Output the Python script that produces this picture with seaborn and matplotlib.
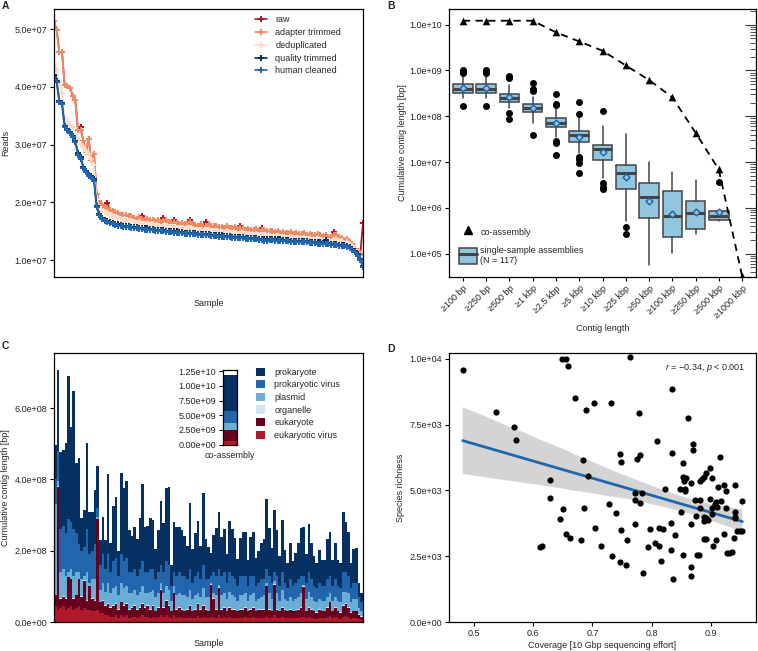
import numpy as np
import pandas as pd
import matplotlib
matplotlib.use("Agg")
import matplotlib.pyplot as plt
import seaborn as sns
from matplotlib.lines import Line2D
from matplotlib.patches import Patch
from matplotlib.ticker import FuncFormatter, LogLocator, NullFormatter, NullLocator

sns.set_theme(style="ticks")
plt.rcParams["font.family"] = ["Liberation Sans", "DejaVu Sans"]
plt.rcParams["font.size"] = 6.5
plt.rcParams["mathtext.fontset"] = "custom"
plt.rcParams["mathtext.it"] = "Liberation Sans:italic"
plt.rcParams["mathtext.rm"] = "Liberation Sans"

# ---------------- data: panel A (reads per sample, millions) ----------------
raw = [51.4, 49.9, 46.0, 46.0, 40.3, 40.1, 39.9, 38.5, 37.7, 32.5, 33.0, 30.7, 28.7, 31.0, 27.4, 28.4, 21.5, 20.3, 19.6,
       19.3, 19.9, 18.7, 18.6, 18.3, 18.1, 17.9, 17.8, 17.9, 17.6, 17.6,
       17.4, 17.2, 17.5, 17.6, 17.0, 17.2, 16.9, 17.0, 16.8, 16.9, 16.6, 17.3,
       16.9, 16.6, 16.5, 17.0, 16.4, 16.3, 16.5, 16.2, 16.3, 16.9, 16.2, 16.1, 16.0,
       16.2, 15.9, 16.6, 16.3, 15.8, 15.9, 16.0, 15.7, 15.8, 15.6, 15.9, 15.5, 15.6,
       15.7, 15.4, 15.9, 15.6, 15.3, 15.4, 15.2, 15.3, 15.4, 15.1, 15.6, 15.3, 15.0,
       15.1, 15.0, 14.9, 15.1, 14.8, 14.9, 14.7, 14.8, 14.9, 14.6, 14.7, 14.5, 14.6,
       14.7, 14.4, 14.5, 14.3, 14.4, 14.6, 14.3, 14.2, 14.4, 14.1, 14.0, 14.9,
       14.3, 14.0, 13.9, 13.5, 13.7, 13.2, 12.8, 12.0, 11.6, 11.1, 16.5]
adapter_trimmed = [51.4, 49.9, 46.0, 46.0, 40.3, 40.1, 39.9, 38.5, 37.7, 32.5, 32.6, 30.7, 28.7, 31.0, 27.4, 28.4, 21.5, 20.3, 19.6,
                   19.3, 19.0, 18.7, 18.6, 18.3, 18.1, 17.9, 17.8, 17.9, 17.6, 17.6,
                   17.4, 17.2, 17.5, 17.1, 17.0, 17.2, 16.9, 17.0, 16.8, 16.9, 16.6, 16.8,
                   16.9, 16.6, 16.5, 16.7, 16.4, 16.3, 16.5, 16.2, 16.3, 16.6, 16.2, 16.1, 16.0,
                   16.2, 15.9, 16.0, 16.3, 15.8, 15.9, 16.0, 15.7, 15.8, 15.6, 15.9, 15.5, 15.6,
                   15.7, 15.4, 15.5, 15.6, 15.3, 15.4, 15.2, 15.3, 15.4, 15.1, 15.2, 15.3, 15.0,
                   15.1, 15.0, 14.9, 15.1, 14.8, 14.9, 14.7, 14.8, 14.9, 14.6, 14.7, 14.5, 14.6,
                   14.7, 14.4, 14.5, 14.3, 14.4, 14.6, 14.3, 14.2, 14.4, 14.1, 14.0, 14.4,
                   14.3, 14.0, 13.9, 13.5, 13.7, 13.2, 12.8, 12.0, 11.6, 11.0, 10.8]
deduplicated = [44.0, 42.9, 40.8, 39.0, 34.5, 34.0, 33.5, 33.0, 31.9, 31.0, 30.2, 29.6, 29.0, 28.4, 27.5, 26.5, 20.6, 19.2, 18.6,
                18.4, 18.1, 17.9, 17.7, 17.5, 17.3, 17.1, 17.0, 17.0, 16.8, 16.8,
                16.6, 16.5, 16.6, 16.3, 16.2, 16.3, 16.1, 16.2, 16.0, 16.0, 15.8, 15.9,
                16.0, 15.8, 15.7, 15.8, 15.6, 15.5, 15.6, 15.4, 15.5, 15.6, 15.4, 15.3, 15.2,
                15.3, 15.1, 15.2, 15.3, 15.0, 15.0, 15.1, 14.9, 14.9, 14.8, 15.0, 14.7, 14.7,
                14.8, 14.6, 14.6, 14.7, 14.5, 14.5, 14.4, 14.4, 14.5, 14.3, 14.3, 14.4, 14.2,
                14.2, 14.1, 14.1, 14.2, 14.0, 14.0, 13.9, 13.9, 14.0, 13.8, 13.8, 13.7, 13.7,
                13.8, 13.6, 13.6, 13.5, 13.5, 13.7, 13.5, 13.4, 13.5, 13.3, 13.2, 13.5,
                13.6, 13.4, 13.3, 13.0, 13.2, 12.8, 12.4, 11.8, 11.2, 10.6, 10.2]
quality_trimmed = [42.0, 41.0, 37.6, 37.2, 33.2, 32.8, 32.2, 31.5, 30.7, 28.5, 27.8, 26.2, 25.5, 24.8, 24.6, 24.0, 19.4, 18.0, 17.3,
                   17.0, 16.8, 16.6, 16.5, 16.3, 16.2, 16.1, 16.0, 15.9, 15.9, 15.8,
                   15.7, 15.7, 15.6, 15.6, 15.5, 15.5, 15.4, 15.4, 15.3, 15.3, 15.2, 15.2,
                   15.1, 15.1, 15.1, 15.0, 15.0, 14.9, 14.9, 14.8, 14.8, 14.8, 14.7, 14.7, 14.6,
                   14.6, 14.6, 14.5, 14.5, 14.4, 14.4, 14.4, 14.3, 14.3, 14.2, 14.2, 14.2, 14.1,
                   14.1, 14.0, 14.0, 14.0, 13.9, 13.9, 13.8, 13.8, 13.8, 13.7, 13.7, 13.6, 13.6,
                   13.7, 13.7, 13.6, 13.6, 13.6, 13.5, 13.5, 13.5, 13.4, 13.4, 13.4, 13.3, 13.3,
                   13.3, 13.3, 13.2, 13.2, 13.2, 13.1, 13.1, 13.0, 13.5, 13.0, 12.9, 12.9,
                   12.8, 12.7, 12.7, 12.6, 12.5, 12.3, 12.0, 11.6, 11.0, 10.2, 9.0]
human_cleaned = [41.8, 40.8, 37.4, 37.0, 33.0, 32.6, 32.0, 31.3, 30.5, 28.3, 27.6, 26.0, 25.3, 24.6, 24.4, 23.8, 19.2, 17.8, 17.1,
                 16.8, 16.6, 16.4, 16.3, 16.1, 16.0, 15.9, 15.8, 15.7, 15.7, 15.6,
                 15.5, 15.5, 15.4, 15.4, 15.3, 15.3, 15.2, 15.2, 15.1, 15.1, 15.0, 15.0,
                 14.9, 14.9, 14.9, 14.8, 14.8, 14.7, 14.7, 14.6, 14.6, 14.6, 14.5, 14.5, 14.4,
                 14.4, 14.4, 14.3, 14.3, 14.2, 14.2, 14.2, 14.1, 14.1, 14.0, 14.0, 14.0, 13.9,
                 13.9, 13.8, 13.8, 13.8, 13.7, 13.7, 13.6, 13.6, 13.6, 13.5, 13.5, 13.4, 13.4,
                 13.5, 13.5, 13.4, 13.4, 13.4, 13.3, 13.3, 13.3, 13.2, 13.2, 13.2, 13.1, 13.1,
                 13.1, 13.1, 13.0, 13.0, 13.0, 12.9, 12.9, 12.8, 12.9, 12.8, 12.7, 12.7,
                 12.6, 12.5, 12.5, 12.4, 12.3, 12.1, 11.8, 11.4, 10.8, 10.0, 8.8]
steps = ["raw", "adapter trimmed", "deduplicated", "quality trimmed", "human cleaned"]
step_colors = ["#B2182B", "#EF8A62", "#FDDBC7", "#053061", "#2166AC"]

# ---------------- data: panel B (contig length thresholds) ----------------
contig_cats = ["≥100 bp", "≥250 bp", "≥500 bp", "≥1 kbp", "≥2.5 kbp", "≥5 kbp", "≥10 kbp",
               "≥25 kbp", "≥50 kbp", "≥100 kbp", "≥250 kbp", "≥500 kbp", "≥1000 kbp"]
coassembly = [1.22e10, 1.22e10, 1.22e10, 1.22e10, 6.8e9, 4.3e9, 2.7e9, 1.29e9, 6.2e8, 2.6e8, 4.4e7, 6.9e6, 3.3e4]
box_q1 = [3.3e8, 3.3e8, 2.06e8, 1.22e8, 5.85e7, 2.75e7, 1.11e7, 2.55e6, 6.15e5, 2.29e5, 3.4e5, 5.5e5]
box_med = [3.9e8, 3.9e8, 2.5e8, 1.5e8, 7.3e7, 3.9e7, 1.9e7, 5.8e6, 1.77e6, 6.5e5, 7.7e5, 6.5e5]
box_q3 = [5.07e8, 5.07e8, 3.07e8, 1.89e8, 9.4e7, 4.87e7, 2.41e7, 8.7e6, 3.57e6, 2.39e6, 1.42e6, 8.6e5]
box_lo = [2.47e8, 2.47e8, 1.5e8, 7.0e7, 3.6e7, 1.56e7, 4.4e6, 5.2e5, 5.7e4, 1.03e5, 2.66e5, 5.2e5]
box_hi = [8.4e8, 8.4e8, 4.8e8, 2.7e8, 1.5e8, 9.0e7, 6.1e7, 4.1e7, 9.8e6, 6.0e6, 4.1e6, 8.6e5]
box_mean = [4.2e8, 4.2e8, 2.7e8, 1.55e8, 7.3e7, 3.6e7, 1.67e7, 4.7e6, 1.4e6, 7.3e5, 8.0e5, 8.2e5]
box_fliers = [[1.0e9, 9.3e8, 8.8e8, 1.7e8], [1.05e9, 9.5e8, 9.0e8, 1.7e8], [7.6e8, 6.7e8, 1.16e8, 8.6e7],
              [5.2e8, 4.0e8, 3.6e8, 4.0e7], [3.1e8, 1.9e8, 1.74e8, 2.9e7, 2.6e7, 1.46e7],
              [2.1e8, 1.12e8, 1.27e7, 1.15e7, 9.4e6, 5.9e6], [1.3e8, 3.57e6, 2.9e6, 2.55e6],
              [3.9e5, 2.7e5], [], [], [], [3.6e6]]

# ---------------- data: panel C (stack tops per sample, units of 1e7 bp) ----------------
prokaryote_top = [49.7, 70.7, 47.8, 48.2, 50.3, 69.1, 54.6, 64.8, 44.7, 45.9,
                  29.1, 31.4, 50.3, 30.9, 30.9, 37.0, 43.9, 23.0, 29.5, 23.0,
                  41.4, 22.3, 32.5, 35.0, 20.0, 41.7, 37.7, 39.6, 25.8, 24.1,
                  26.6, 23.2, 29.1, 38.7, 26.7, 26.9, 29.3, 28.6, 20.4, 25.8,
                  34.0, 27.9, 37.5, 37.8, 16.0, 28.1, 26.7, 26.6, 25.8, 24.1,
                  21.3, 33.3, 20.4, 24.9, 28.3, 21.3, 36.3, 23.2, 21.1, 19.3,
                  24.5, 26.3, 30.9, 23.9, 26.0, 19.1, 28.3, 26.0, 23.7, 17.6,
                  23.7, 25.3, 25.3, 17.4, 23.9, 25.2, 18.1, 20.0, 22.1, 23.3,
                  34.4, 26.3, 20.9, 31.4, 25.8, 18.5, 28.6, 20.2, 16.5, 22.1,
                  17.1, 19.3, 22.1, 26.3, 26.6, 19.1, 27.4, 22.1, 18.5, 16.5,
                  20.2, 17.4, 17.4, 23.2, 25.3, 17.4, 22.1, 17.4, 16.5, 30.9,
                  28.1, 25.3, 16.5, 20.4, 20.7, 11.0, 8.2]
prok_virus_top = [40, 48, 26, 27, 25, 29, 28, 26, 25, 22,
                  20, 21, 26, 19, 20, 22, 32, 16, 19, 15,
                  19, 14, 17, 18, 13, 19, 17, 18, 14, 14,
                  15, 13, 15, 17, 14, 14, 15, 15, 12, 14,
                  16, 14, 17, 16, 10, 14, 13, 14, 13, 13,
                  12, 15, 11, 13, 14, 12, 16, 12, 12, 13,
                  14, 13, 15, 13, 14, 11, 14, 13, 12, 10,
                  13, 13, 13, 10, 13, 13, 10, 11, 12, 12,
                  15, 13, 11, 14, 13, 10, 14, 11, 9.5, 12,
                  10, 11, 12, 13, 13, 11, 14, 12, 10, 9.5,
                  11, 10, 10, 12, 13, 10, 12, 10, 9.5, 14,
                  14, 13, 9.5, 11, 11, 7, 5.5]
plasmid_top = [33, 39.5, 14, 15, 13, 14, 15, 13, 14, 14,
               12, 13, 14, 11, 12, 12, 29.5, 9, 11, 8.5,
               11, 8, 9.5, 10, 7.5, 11, 9.5, 10, 8, 8,
               9, 7.5, 8.5, 10, 8, 8, 8.5, 9, 7, 8,
               11, 8, 10, 9, 6, 10, 7.5, 8, 7.5, 7.5,
               7, 9, 6.5, 7.5, 8, 7, 9.5, 7, 7, 11,
               8, 7.5, 10.5, 7.5, 8, 6.5, 8.5, 7.5, 7, 6,
               7.5, 7.5, 8, 6, 7.5, 8, 6, 6.5, 7, 7.5,
               11, 8, 6.5, 11.5, 8, 6, 9, 6.5, 6, 7,
               6, 6.5, 7, 8, 10.5, 6.5, 8.5, 7, 6, 5.5,
               6.5, 6, 6, 7, 8, 6, 7, 6, 5.5, 8.5,
               8.5, 8, 5.5, 6.5, 6.5, 4, 3.2]
organelle_top = [7.7, 38.2, 6.7, 7.2, 6.7, 12.7, 12.2, 6.7, 7.7, 12.2,
                 7.2, 11.7, 6.2, 10.2, 6.7, 6.2, 29.0, 5.7, 6.2, 4.7,
                 5.2, 4.2, 4.7, 5.2, 3.7, 5.7, 4.7, 5.2, 3.7, 4.2,
                 4.7, 3.7, 4.2, 5.2, 4.2, 4.7, 3.7, 4.7, 3.2, 4.2,
                 9.2, 4.2, 6.2, 4.7, 3.2, 8.2, 3.7, 4.2, 3.7, 3.2,
                 3.7, 4.7, 3.2, 3.7, 5.2, 3.7, 4.7, 3.7, 3.2, 10.6,
                 6.7, 3.7, 9.7, 3.7, 4.2, 3.2, 4.2, 3.7, 3.7, 3.2,
                 3.7, 3.7, 4.2, 3.2, 3.7, 4.2, 3.2, 3.7, 3.7, 3.7,
                 10.2, 3.7, 3.2, 10.7, 3.7, 3.2, 4.2, 3.7, 3.2, 3.7,
                 3.2, 3.2, 3.7, 4.2, 10.0, 3.2, 4.2, 3.7, 3.2, 2.7,
                 3.7, 3.2, 3.2, 4.2, 5.7, 3.2, 4.2, 3.2, 2.7, 4.7,
                 5.2, 4.2, 2.7, 3.2, 3.2, 2.2, 1.7]
eukaryote_top = [7.5, 38, 6.5, 7, 6.5, 12.5, 12, 6.5, 7.5, 12,
                 7, 11.5, 6, 10, 6.5, 6, 28.8, 5.5, 6, 4.5,
                 5, 4, 4.5, 5, 3.5, 5.5, 4.5, 5, 3.5, 4,
                 4.5, 3.5, 4, 5, 4, 4.5, 3.5, 4.5, 3, 4,
                 9, 4, 6, 4.5, 3, 8, 3.5, 4, 3.5, 3,
                 3.5, 4.5, 3, 3.5, 5, 3.5, 4.5, 3.5, 3, 10.4,
                 6.5, 3.5, 9.5, 3.5, 4, 3, 4, 3.5, 3.5, 3,
                 3.5, 3.5, 4, 3, 3.5, 4, 3, 3.5, 3.5, 3.5,
                 10, 3.5, 3, 10.5, 3.5, 3, 4, 3.5, 3, 3.5,
                 3, 3, 3.5, 4, 9.8, 3, 4, 3.5, 3, 2.5,
                 3.5, 3, 3, 4, 5.5, 3, 4, 3, 2.5, 4.5,
                 5, 4, 2.5, 3, 3, 2, 1.5]
euk_virus_top = [4.5, 3.5, 4.0, 4.5, 3.5, 4.0, 4.5, 3.5, 4.0, 4.5,
                 3.5, 4.0, 3.5, 3.5, 3.0, 3.0, 3.5, 2.5, 2.5, 2.0,
                 2.0, 1.5, 1.5, 2.0, 1.2, 2.0, 1.5, 2.0, 1.2, 1.5,
                 1.5, 1.2, 1.5, 2.0, 1.5, 1.5, 1.2, 1.5, 1.0, 1.5,
                 2.0, 1.5, 2.0, 1.5, 1.0, 2.0, 1.2, 1.5, 1.2, 1.0,
                 1.2, 1.5, 1.0, 1.2, 1.8, 1.2, 1.5, 1.2, 1.0, 1.5,
                 1.5, 1.2, 2.0, 1.2, 1.5, 1.0, 1.5, 1.2, 1.2, 1.0,
                 1.2, 1.2, 1.5, 1.0, 1.2, 1.5, 1.0, 1.2, 1.2, 1.2,
                 1.5, 1.2, 1.0, 2.0, 1.2, 1.0, 1.5, 1.2, 1.0, 1.2,
                 1.0, 1.0, 1.2, 1.5, 1.5, 1.0, 1.5, 1.2, 1.0, 0.8,
                 1.2, 1.0, 1.0, 1.5, 1.8, 1.0, 1.5, 1.0, 0.8, 1.5,
                 1.8, 1.5, 0.8, 1.0, 1.0, 0.8, 0.6]
# co-assembly stack tops (units of 1e9 bp)
co_tops = [11.9, 5.65, 3.65, 2.45, 2.4, 0.68]
groups = ["prokaryote", "prokaryotic virus", "plasmid", "organelle", "eukaryote", "eukaryotic virus"]
group_colors = ["#053061", "#2166AC", "#6AAED6", "#D1E5F0", "#67001F", "#B2182B"]

# ---------------- data: panel D ----------------
coverage = [0.481, 0.537, 0.568, 0.571, 0.628, 0.628, 0.646, 0.651, 0.655, 0.663,
            0.612, 0.615, 0.649, 0.656, 0.658, 0.671, 0.690, 0.702, 0.732, 0.684,
            0.693, 0.685, 0.680, 0.705, 0.714, 0.728, 0.733, 0.740, 0.746, 0.748,
            0.746, 0.748, 0.756, 0.759, 0.763, 0.778, 0.772, 0.772, 0.772, 0.775,
            0.780, 0.781, 0.784, 0.785, 0.797, 0.793, 0.805, 0.809, 0.812, 0.813,
            0.815, 0.819, 0.823, 0.834, 0.834, 0.833, 0.833, 0.836, 0.840, 0.847,
            0.849, 0.853, 0.853, 0.852, 0.854, 0.858, 0.857, 0.856, 0.862, 0.866,
            0.867, 0.866, 0.866, 0.870, 0.870, 0.873, 0.875, 0.876, 0.880, 0.881,
            0.882, 0.882, 0.891, 0.888, 0.885, 0.888, 0.889, 0.892, 0.888, 0.891,
            0.895, 0.898, 0.898, 0.901, 0.902, 0.901, 0.903, 0.906, 0.908, 0.908,
            0.910, 0.912, 0.916, 0.917, 0.922, 0.922, 0.925, 0.926, 0.927, 0.930,
            0.936, 0.939, 0.940, 0.941, 0.940, 0.944, 0.949, 0.952, 0.953, 0.940]
richness = [9583, 7965, 7421, 6928, 5411, 4703, 3932, 4311, 3350, 3198,
            2845, 2895, 10000, 10000, 9722, 8496, 8053, 8319, 8306, 6157,
            5563, 4349, 3123, 3578, 2870, 4475, 2503, 4147, 6384, 6081,
            2263, 3502, 2162, 3097, 10076, 7939, 3742, 4918, 4627, 6182,
            4513, 6359, 4905, 1871, 3552, 2857, 2996, 6865, 3590, 2870,
            2314, 3552, 5057, 8862, 6410, 3755, 2718, 1618, 3300, 5070,
            4172, 2541, 6030, 5525, 5373, 5474, 4968, 5070, 7762, 5297,
            3729, 2099, 1757, 6776, 6536, 4640, 4045, 2528, 2528, 4640,
            5373, 4336, 5676, 5525, 5449, 3982, 3856, 3957, 3161, 3161,
            3881, 5866, 4665, 5474, 4324, 4096, 2870, 4488, 3097, 4564,
            4362, 5120, 6258, 4614, 5196, 3325, 4336, 4981, 2617, 2617,
            2642, 3198, 5196, 4197, 3970, 3439, 3439, 3439, 4589, 4008]

sci1 = FuncFormatter(lambda v, p: f"{v:.1e}")
sci2 = FuncFormatter(lambda v, p: f"{v:.2e}")

W, H = 758, 651
fig = plt.figure(figsize=(W / 100, H / 100), dpi=100)


def px_axes(l, t, r, b):
    return fig.add_axes([l / W, 1 - b / H, (r - l) / W, (b - t) / H])


def style(ax):
    for s in ax.spines.values():
        s.set_color("black")
        s.set_linewidth(0.9)
    ax.tick_params(length=3, width=0.8, color="black", labelsize=6.5, pad=2, labelcolor="#222222")


# ================= A =================
ax_a = px_axes(54, 9, 363, 277)
samples = np.arange(len(raw))
for name, vals, col in zip(steps, [raw, adapter_trimmed, deduplicated, quality_trimmed, human_cleaned], step_colors):
    sns.lineplot(x=samples, y=np.array(vals) * 1e6, color=col, marker="P", markersize=3.8,
                 markeredgewidth=0, linewidth=1.3, ax=ax_a)
ax_a.set_xlim(0, len(raw) - 1)
ax_a.set_ylim(0.71e7, 5.35e7)
ax_a.set_yticks([1e7, 2e7, 3e7, 4e7, 5e7])
ax_a.yaxis.set_major_formatter(sci1)
ax_a.set_xticks([])
ax_a.set_xlabel("Sample", fontsize=6.5, labelpad=16)
ax_a.set_ylabel("Reads", fontsize=6.5, labelpad=3)
style(ax_a)
handles_a = [Line2D([0], [0], color=c, marker="P", markersize=4, markeredgewidth=0, lw=1.2) for c in step_colors]
ax_a.legend(handles_a, steps, loc="upper left", bbox_to_anchor=(0.64, 0.99), frameon=False,
            handlelength=1.3, handletextpad=0.9, labelspacing=0.42, fontsize=6.5, borderaxespad=0)

# ================= B =================
ax_b = px_axes(449, 9, 756, 277)
stats = []
for i in range(len(box_q1)):
    stats.append(dict(med=box_med[i], q1=box_q1[i], q3=box_q3[i], whislo=box_lo[i],
                      whishi=box_hi[i], mean=box_mean[i], fliers=box_fliers[i]))
ax_b.bxp(stats, positions=range(len(stats)), widths=0.84, showmeans=True, showcaps=False, patch_artist=True,
         boxprops=dict(facecolor="#92C5DE", edgecolor="#444444", linewidth=1.1),
         medianprops=dict(color="#444444", linewidth=2.2),
         whiskerprops=dict(color="#444444", linewidth=1.1),
         flierprops=dict(marker="o", markerfacecolor="black", markeredgecolor="black", markersize=4),
         meanprops=dict(marker="D", markerfacecolor="#92C5DE", markeredgecolor="#1F5FA8",
                        markeredgewidth=1, markersize=3.5))
xb = np.arange(len(contig_cats))
sns.lineplot(x=xb, y=coassembly, color="black", linestyle=(0, (4, 3)), linewidth=1.3, ax=ax_b)
sns.scatterplot(x=xb, y=coassembly, color="black", marker="^", s=30, linewidth=0, ax=ax_b, zorder=5)
ax_b.set_yscale("log")
ax_b.set_ylim(3.1e4, 2.2e10)
ax_b.set_xlim(-0.6, 12.6)
ax_b.set_yticks([1e5, 1e6, 1e7, 1e8, 1e9, 1e10])
ax_b.yaxis.set_major_formatter(sci1)
ax_b.yaxis.set_minor_locator(NullLocator())
ax_b.set_xticks(xb)
ax_b.set_xticklabels(contig_cats, rotation=45, ha="right", rotation_mode="anchor")
ax_b.set_xlabel("Contig length", fontsize=6.5, labelpad=3)
ax_b.set_ylabel("Cumulative contig length [bp]", fontsize=6.5, labelpad=2)
style(ax_b)
ax_br = ax_b.twinx()
ax_br.set_yscale("log")
ax_br.set_ylim(ax_b.get_ylim())
ax_br.yaxis.set_major_locator(LogLocator(base=10))
ax_br.yaxis.set_minor_locator(LogLocator(base=10, subs=np.arange(2, 10)))
ax_br.yaxis.set_major_formatter(NullFormatter())
ax_br.yaxis.set_minor_formatter(NullFormatter())
ax_br.tick_params(axis="y", which="major", direction="in", length=8, width=0.8, color="#333333")
ax_br.tick_params(axis="y", which="minor", direction="in", length=4, width=0.6, color="#333333")
for s in ax_br.spines.values():
    s.set_visible(False)
h_tri = Line2D([0], [0], marker="^", color="black", lw=0, markersize=6)
h_box = (Patch(facecolor="#92C5DE", edgecolor="#444444", linewidth=1.1), Line2D([0], [0], color="#444444", lw=2.2))
ax_b.legend([h_tri, h_box], ["co-assembly", "single-sample assemblies\n(N = 117)"], loc="lower left",
            bbox_to_anchor=(0.02, 0.03), frameon=False, handlelength=2.0, handleheight=2.3,
            labelspacing=0.6, handletextpad=0.4, fontsize=6.5, borderaxespad=0)

# ================= C =================
ax_c = px_axes(54, 353, 363, 622)
tops = [prokaryote_top, prok_virus_top, plasmid_top, organelle_top, eukaryote_top, euk_virus_top]
df_c = pd.DataFrame({g: np.array(t) * 1e7 for g, t in zip(groups, tops)})
df_c["sample"] = np.arange(len(prokaryote_top))
for g, col in zip(groups, group_colors):
    sns.barplot(data=df_c, x="sample", y=g, color=col, width=1.0, saturation=1, linewidth=0, ax=ax_c)
ax_c.set_xlim(-0.5, len(prokaryote_top) - 0.5)
ax_c.set_ylim(0, 7.55e8)
ax_c.set_yticks([0, 2e8, 4e8, 6e8])
ax_c.yaxis.set_major_formatter(sci1)
ax_c.set_xticks([])
ax_c.set_xlabel("Sample", fontsize=6.5, labelpad=12)
ax_c.set_ylabel("Cumulative contig length [bp]", fontsize=6.5, labelpad=3)
style(ax_c)
ax_c.legend([Patch(facecolor=c, edgecolor="none") for c in group_colors], groups, loc="upper left",
            bbox_to_anchor=(0.655, 0.945), frameon=False, handlelength=1.0, handleheight=1.0,
            handletextpad=1.0, labelspacing=0.38, fontsize=6.5, borderaxespad=0, borderpad=0)

ax_in = px_axes(223, 370, 237, 444.5)
for v, col in zip(co_tops, group_colors):
    sns.barplot(x=[0], y=[v * 1e9], color=col, width=1.0, saturation=1, linewidth=0, ax=ax_in)
ax_in.set_xlim(-0.5, 0.5)
ax_in.set_ylim(0, 1.272e10)
ax_in.set_yticks([0, 2.5e9, 5e9, 7.5e9, 1e10, 1.25e10])
ax_in.yaxis.set_major_formatter(sci2)
ax_in.set_xticks([])
ax_in.set_xlabel("co-assembly", fontsize=6.5, labelpad=5)
ax_in.set_ylabel("")
style(ax_in)

# ================= D =================
ax_d = px_axes(449, 353, 756, 622)
sns.regplot(x=coverage, y=richness, scatter=False, ci=95, seed=1, color="#BDBDBD",
            line_kws=dict(linewidth=2), ax=ax_d)
ax_d.lines[-1].set_color("#2166AC")
for coll in ax_d.collections:
    coll.set_facecolor("#D4D4D4")
    coll.set_alpha(1)
    coll.set_edgecolor("none")
sns.scatterplot(x=coverage, y=richness, color="black", s=20, linewidth=0, ax=ax_d, zorder=4)
ax_d.set_xlim(0.458, 0.976)
ax_d.set_ylim(0, 1.022e4)
ax_d.set_xticks([0.5, 0.6, 0.7, 0.8, 0.9])
ax_d.set_yticks([0, 2500, 5000, 7500, 10000])
ax_d.yaxis.set_major_formatter(sci1)
ax_d.set_xlabel("Coverage [10 Gbp sequencing effort]", fontsize=6.5, labelpad=2)
ax_d.set_ylabel("Species richness", fontsize=6.5, labelpad=3)
style(ax_d)
ax_d.text(0.964, 0.944, r"$r$ = −0.34, $p$ < 0.001", transform=ax_d.transAxes, ha="right", va="center",
          fontsize=6.5)

# panel letters
for lab, x, y in [("A", 2, 6), ("B", 387, 6), ("C", 2, 346), ("D", 387, 349)]:
    fig.text(x / W, 1 - y / H, lab, fontsize=7.5, fontweight="bold", ha="left", va="center")

fig.savefig("out.png", dpi=100)
